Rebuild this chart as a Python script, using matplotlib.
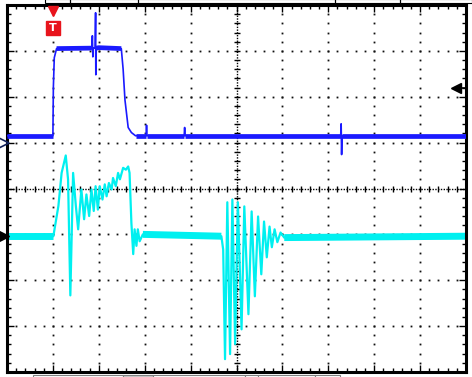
import numpy as np
import matplotlib
matplotlib.use('Agg')
import matplotlib.pyplot as plt

# screen units are divisions: time 0..10 div, level -4..4 div
# channel 1 (blue)
ch1_t = [0, 1.0, 1.01, 1.03, 1.08, 1.85, 1.86, 1.87, 1.88, 1.92, 1.93, 1.935, 1.945,
         2.0, 2.49, 2.53, 2.57, 2.64, 2.71, 2.80, 3.03, 3.04, 3.05, 3.86, 3.87, 3.88,
         7.27, 7.28, 7.29, 7.30, 10]
ch1_v = [1.15, 1.15, 2.2, 2.85, 3.05, 3.06, 3.33, 2.87, 3.06, 3.06, 3.83, 2.48, 3.06,
         3.07, 3.05, 2.6, 1.93, 1.33, 1.22, 1.15, 1.15, 1.38, 1.15, 1.15, 1.33, 1.15,
         1.15, 1.41, 0.74, 1.15, 1.15]

# channel 2 (cyan)
ch2_t = [0, 1.01, 1.12, 1.19, 1.28, 1.33, 1.38, 1.44, 1.50, 1.55,
         1.62, 1.68, 1.73, 1.79, 1.84, 1.89, 1.93, 1.98, 2.02, 2.08,
         2.13, 2.17, 2.22, 2.28, 2.31, 2.37, 2.42, 2.46, 2.53, 2.59,
         2.64, 2.67, 2.71, 2.75, 2.78, 2.82, 2.85, 2.89, 2.96,
         4.67, 4.71, 4.75, 4.80, 4.86, 4.91, 4.97, 5.03, 5.11, 5.17,
         5.26, 5.33, 5.40, 5.47, 5.54, 5.60, 5.66, 5.72, 5.77, 5.83,
         5.89, 5.96, 6.04, 10]
ch2_v = [-1.04, -1.04, -0.38, 0.34, 0.72, 0.20, -2.33, 0.34, -0.38, -0.89,
         -0.02, -0.67, -0.13, -0.60, -0.02, -0.49, 0.05, -0.46, 0.05, -0.24,
         0.09, -0.17, 0.12, -0.02, 0.23, 0.05, 0.34, 0.20, 0.45, 0.41,
         0.48, 0.34, -0.75, -1.43, -0.89, -1.25, -0.89, -1.15, -1.00,
         -1.04, -1.33, -3.72, -0.30, -3.61, -0.24, -3.39, -0.30, -3.07, -0.39,
         -2.74, -0.50, -2.35, -0.61, -1.87, -0.72, -1.50, -0.83, -1.28, -0.89,
         -1.17, -0.96, -1.07, -1.04]

BLUE = '#1a1aff'
CYAN = '#00f0f0'

fig = plt.figure(figsize=(4.72, 3.77), dpi=100)
ax = fig.add_axes([7 / 472, 5 / 377, 459 / 472, 367 / 377])
ax.set_xlim(0, 10)
ax.set_ylim(-4, 4)

# graticule: dotted lines every division, dots every 0.2 div
fine = np.arange(0, 10.001, 0.2)
fine_y = np.arange(-4, 4.001, 0.2)
for gx in range(1, 10):
    if gx == 5:
        continue
    ax.plot([gx] * len(fine_y), fine_y, ls='none', marker='s', ms=1.3, mew=0,
            color='#101010', zorder=1)
for gy in range(-3, 4):
    if gy == 0:
        continue
    ax.plot(fine, [gy] * len(fine), ls='none', marker='s', ms=1.3, mew=0,
            color='#101010', zorder=1)

# centre axes with tick crosses
ax.plot([0, 10], [0, 0], color='black', lw=1, ls=(0, (1, 1)), zorder=1)
ax.plot([5, 5], [-4, 4], color='black', lw=1, ls=(0, (1, 1)), zorder=1)
ax.plot(fine, [0] * len(fine), ls='none', marker='|', ms=5, mew=1, color='black', zorder=1)
ax.plot([5] * len(fine_y), fine_y, ls='none', marker='_', ms=5, mew=1, color='black', zorder=1)

# traces: thin line everywhere, thicker noisy band on the flat parts
ax.plot(ch1_t, ch1_v, color=BLUE, lw=1.2, zorder=3)
for a, b in [(0, 2), (4, 6), (12, 15), (19, 21), (22, 24), (25, 27), (29, 31)]:
    ax.plot(ch1_t[a:b], ch1_v[a:b], color=BLUE, lw=3.4, solid_capstyle='butt', zorder=3)
ax.plot(ch2_t, ch2_v, color=CYAN, lw=1.6, zorder=2)
for a, b in [(0, 2), (38, 40), (61, 63)]:
    ax.plot(ch2_t[a:b], ch2_v[a:b], color=CYAN, lw=5, solid_capstyle='butt', zorder=2)

# border ticks
ax.set_xticks(range(0, 11))
ax.set_yticks(range(-4, 5))
ax.set_xticks(fine, minor=True)
ax.set_yticks(fine_y, minor=True)
ax.tick_params(which='both', direction='in', top=True, right=True,
               labelbottom=False, labelleft=False, color='black')
ax.tick_params(which='major', length=5, width=1)
ax.tick_params(which='minor', length=3, width=1)
for s in ax.spines.values():
    s.set_linewidth(2.2)
    s.set_color('black')

# trigger marker
ax.plot([1.0], [3.88], marker='v', ms=7, color='#e8141c', clip_on=False, zorder=5)
ax.plot([1.0], [3.5], marker='s', ms=10, color='#e8141c', clip_on=False, zorder=5)
ax.text(1.0, 3.5, 'T', color='white', fontsize=8, fontweight='bold',
        ha='center', va='center', zorder=6, family='DejaVu Sans')

# level / channel markers
ax.plot([9.78], [2.19], marker='<', ms=7, color='black', clip_on=False, zorder=5)
ax.plot([9.85, 9.98], [2.19, 2.19], color='black', lw=1.2, clip_on=False, zorder=5)
ax.plot([-0.07], [-1.04], marker='>', ms=7, color='black', clip_on=False, zorder=5)
ax.plot([-0.07], [1.0], marker='>', ms=7, mfc='none', mec='#10205a', mew=1.2,
        clip_on=False, zorder=5)

# parts of the readout boxes cut off above and below the screen
for x0, x1 in [(45, 70), (70, 138), (138, 335), (335, 400), (400, 472)]:
    fig.add_artist(plt.Rectangle((x0 / 472, 1 - 3 / 377), (x1 - x0) / 472, 4 / 377,
                                 transform=fig.transFigure, fill=False,
                                 edgecolor='black', lw=0.8))
for x0, x1, fc in [(33, 123, 'white'), (123, 153, '#c8c8c8'), (153, 245, 'white'),
                   (245, 258, 'white'), (258, 315, 'white'), (315, 340, 'white')]:
    fig.add_artist(plt.Rectangle((x0 / 472, -1 / 377), (x1 - x0) / 472, 3 / 377,
                                 transform=fig.transFigure, facecolor=fc,
                                 edgecolor='#808080', lw=0.8))

fig.savefig('out.png', dpi=100)
